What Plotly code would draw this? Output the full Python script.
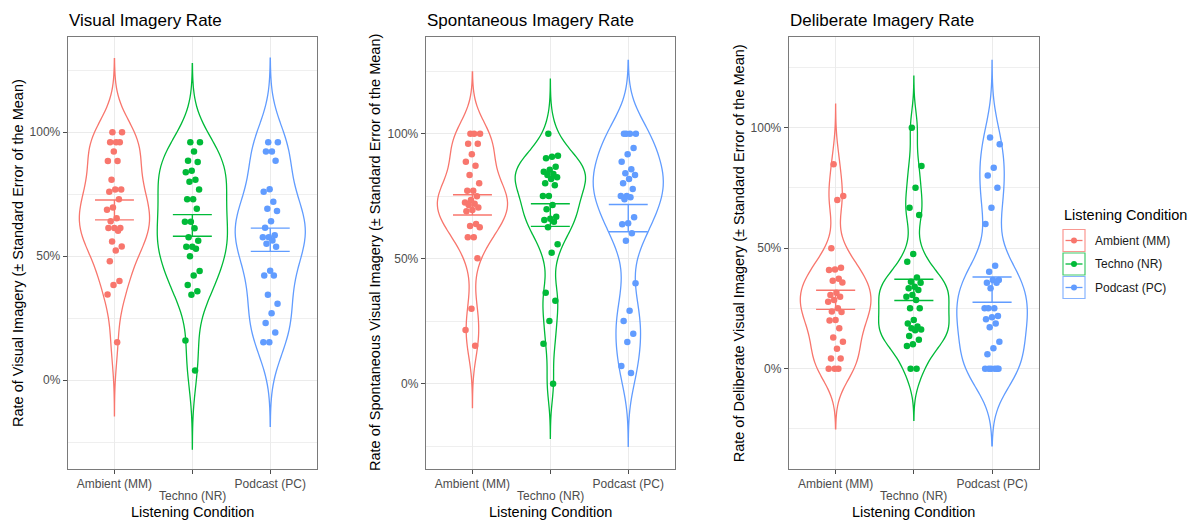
import numpy as np
import plotly.graph_objects as go

# ---- data (percent of trials with imagery, per participant) ----
conditions = ["Ambient (MM)", "Techno (NR)", "Podcast (PC)"]
colors = ["#F8766D", "#00BA38", "#619CFF"]

visual_ambient = [100, 100, 96, 96, 96, 92.2, 88.4, 88.4, 80.8, 76.9, 76.9, 76.0, 73.0, 69.6, 68.7,
                  65.3, 64.1, 61.4, 61.4, 61.4, 60.3, 55.9, 53.9, 52.3, 48.0, 40.0, 38.4, 34.6, 15.3]
visual_techno = [96, 96, 92.2, 88.5, 88.0, 84.5, 83.9, 80.8, 80.0, 76.9, 73.0, 73.0, 69.1, 63.9, 63.9,
                 61.3, 57.7, 56.2, 53.8, 53.8, 53.0, 50.0, 44.0, 42.2, 38.4, 35.9, 34.5, 16.0, 3.9]
visual_podcast = [96, 96, 92.2, 92.2, 88.5, 77.0, 76.0, 72.0, 69.1, 68.2, 64.1, 61.5, 58.5, 57.7,
                  57.7, 56.3, 55.0, 53.8, 44.1, 42.2, 42.2, 34.5, 30.8, 27.0, 23.1, 19.2, 15.3, 15.3]

spont_ambient = [100, 100, 100, 96, 96, 91.8, 88.8, 87.2, 83.5, 80.2, 77.2, 77.2, 75.0, 73.5, 72.5,
                 72.0, 71.5, 70.5, 69.5, 69.0, 63.9, 63.1, 62.6, 58.6, 58.6, 50.2, 30.0, 21.5, 15.2]
spont_techno = [100, 91.2, 90.8, 90.2, 86.8, 85.6, 84.8, 83.9, 83.5, 82.6, 81.9, 80.2, 79.4, 75.1,
                75.1, 71.5, 69.8, 66.8, 66.0, 65.5, 64.8, 62.6, 55.8, 52.4, 36.4, 33.2, 25.1, 16.0, 0]
spont_podcast = [100, 100, 100, 100, 94.3, 91.8, 88.8, 85.8, 84.2, 83.5, 81.9, 80.2, 77.9, 75.1,
                 75.1, 74.6, 73.8, 66.6, 64.2, 63.8, 60.2, 57.2, 40.2, 29.2, 25.1, 20.0, 16.7, 7.1, 4.3]

delib_ambient = [84.8, 71.6, 70.0, 50.0, 41.9, 41.2, 41.0, 37.3, 36.5, 35.8, 31.5, 30.6, 29.9, 28.5,
                 27.8, 25.1, 23.7, 23.5, 20.2, 20.0, 16.8, 13.0, 11.2, 8.3, 4.2, 4.2, 0, 0, 0]
delib_techno = [100, 84.1, 75.1, 66.8, 63.8, 47.6, 44.4, 37.8, 36.1, 35.7, 34.0, 33.4, 32.7, 30.6,
                29.9, 28.5, 25.1, 25.1, 20.2, 18.8, 17.5, 16.8, 16.3, 16.0, 13.6, 12.0, 10.2, 9.4, 0, 0]
delib_podcast = [95.9, 93.1, 83.4, 80.1, 75.1, 66.8, 60.0, 42.7, 40.2, 36.8, 36.8, 35.7, 35.7, 33.4,
                 25.1, 25.1, 25.1, 21.9, 21.3, 20.5, 18.8, 17.2, 11.2, 8.5, 6.0, 0, 0, 0, 0, 0, 0]

panel_titles = ["Visual Imagery Rate", "Spontaneous Imagery Rate", "Deliberate Imagery Rate"]
y_titles = ["Rate of Visual Imagery (\u00b1 Standard Error of the Mean)",
            "Rate of Spontaneous Visual Imagery (\u00b1 Standard Error of the Mean)",
            "Rate of Deliberate Visual Imagery (\u00b1 Standard Error of the Mean)"]
x_title = "Listening Condition"
legend_title = "Listening Condition"
panel_data = [
    [visual_ambient, visual_techno, visual_podcast],
    [spont_ambient, spont_techno, spont_podcast],
    [delib_ambient, delib_techno, delib_podcast],
]
# y-axis limits per panel (fraction)
y_limits = [(-0.358, 1.384), (-0.341, 1.387), (-0.416, 1.376)]

# ---- page geometry (pixels) ----
W, H = 1196, 520
panel_x = [(67.7, 317.0), (425.7, 675.0), (788.7, 1039.0)]
panel_top, panel_bot = 37.0, 469.0
ytitle_x = [18.0, 375.0, 739.3]
FONT = "Liberation Sans, Arial, Helvetica, sans-serif"
TICK_FONT = dict(family=FONT, size=12, color="#4D4D4D")


def px_x(p):
    return p / W


def px_y(p):
    return 1 - p / H


def bw_nrd0(v):
    v = np.asarray(v, dtype=float)
    sd = v.std(ddof=1)
    q75, q25 = np.percentile(v, [75, 25])
    lo = min(sd, (q75 - q25) / 1.34)
    if lo <= 0:
        lo = sd if sd > 0 else 1.0
    return 0.9 * lo * len(v) ** -0.2


def jitter(n, width=0.1):
    # deterministic low-discrepancy spread within +/- width
    return np.array([width * (2 * ((i * 0.6180339887 + 0.37) % 1.0) - 1) for i in range(n)])


fig = go.Figure()
annotations = []
shapes = []

for p, groups in enumerate(panel_data):
    xa = "x" if p == 0 else f"x{p + 1}"
    ya = "y" if p == 0 else f"y{p + 1}"
    for g, vals in enumerate(groups):
        v = np.asarray(vals, dtype=float) / 100.0
        bw = bw_nrd0(v)
        lo, hi = v.min() - 3 * bw, v.max() + 3 * bw
        xc = g + 1
        # violin outline (untrimmed density, 3 bandwidths past the data)
        fig.add_trace(go.Violin(
            x0=xc, y=v, xaxis=xa, yaxis=ya, name=conditions[g],
            bandwidth=bw, spanmode="manual", span=[lo, hi],
            width=0.9, scalegroup=f"panel{p}", scalemode="width",
            line=dict(color=colors[g], width=1.3), fillcolor="rgba(0,0,0,0)",
            points=False, box_visible=False, meanline_visible=False,
            showlegend=False, hoverinfo="skip",
        ))
        # jittered participants
        fig.add_trace(go.Scatter(
            x=xc + jitter(len(v)), y=v, xaxis=xa, yaxis=ya, mode="markers",
            marker=dict(size=6.5, color=colors[g]), showlegend=False, hoverinfo="skip",
        ))
        # mean +/- standard error
        m = v.mean()
        se = v.std(ddof=1) / np.sqrt(len(v))
        hw = 0.25
        ex = [xc - hw, xc + hw, None, xc - hw, xc + hw, None, xc, xc]
        ey = [m + se, m + se, None, m - se, m - se, None, m - se, m + se]
        fig.add_trace(go.Scatter(
            x=ex, y=ey, xaxis=xa, yaxis=ya, mode="lines",
            line=dict(color=colors[g], width=1.4), showlegend=False, hoverinfo="skip",
        ))

    axis_common = dict(
        showline=True, mirror=True, linecolor="#7a7a7a", linewidth=1,
        ticks="outside", ticklen=4, tickcolor="#4d4d4d", tickwidth=1,
        tickfont=TICK_FONT,
        gridcolor="#EBEBEB", gridwidth=1, zeroline=False, automargin=False,
    )
    x0, x1 = panel_x[p]
    # the middle label is dodged onto a second row, drawn below
    fig.layout[f"xaxis{p + 1 if p else ''}"] = dict(
        axis_common, domain=[px_x(x0), px_x(x1)], anchor=ya,
        range=[0.4, 3.6], tickvals=[1, 2, 3],
        ticktext=[conditions[0], "", conditions[2]],
        showgrid=True,
    )
    fig.layout[f"yaxis{p + 1 if p else ''}"] = dict(
        axis_common, domain=[px_y(panel_bot), px_y(panel_top)], anchor=xa,
        range=list(y_limits[p]), tickvals=[0, 0.5, 1.0], tickformat=".0%", showgrid=True,
        minor=dict(tickvals=[-0.25, 0.25, 0.75, 1.25], showgrid=True,
                   gridcolor="#EFEFEF", gridwidth=1, ticks=""),
    )
    annotations.append(dict(
        text=conditions[1], xref=xa, yref="paper", x=2, y=px_y(495.5),
        xanchor="center", yanchor="middle", showarrow=False, font=TICK_FONT,
    ))

    # panel title
    annotations.append(dict(
        text=panel_titles[p], xref="paper", yref="paper", x=px_x(x0 - 1), y=px_y(20.5),
        xanchor="left", yanchor="middle", showarrow=False,
        font=dict(family=FONT, size=17, color="#000000"),
    ))
    # y-axis title
    annotations.append(dict(
        text=y_titles[p], xref="paper", yref="paper", x=px_x(ytitle_x[p]),
        y=px_y((panel_top + panel_bot) / 2), xanchor="center", yanchor="middle",
        textangle=-90, showarrow=False, font=dict(family=FONT, size=14.5, color="#000000"),
    ))
    # x-axis title
    annotations.append(dict(
        text=x_title, xref="paper", yref="paper", x=px_x((x0 + x1) / 2), y=px_y(511.5),
        xanchor="center", yanchor="middle", showarrow=False,
        font=dict(family=FONT, size=14.5, color="#000000"),
    ))

# ---- legend ----
annotations.append(dict(
    text=legend_title, xref="paper", yref="paper", x=px_x(1061.5), y=px_y(215),
    xanchor="left", yanchor="middle", showarrow=False,
    font=dict(family=FONT, size=14.5, color="#000000"),
))
key_left, key_size, key_pitch, key_top0 = 1063.0, 22.0, 23.5, 229.5
for g, name in enumerate(conditions):
    top = key_top0 + g * key_pitch
    cy = top + key_size / 2
    shapes.append(dict(type="rect", xref="paper", yref="paper",
                       x0=px_x(key_left), x1=px_x(key_left + key_size),
                       y0=px_y(top + key_size), y1=px_y(top),
                       line=dict(color=colors[g], width=1.2), fillcolor="rgba(0,0,0,0)", opacity=0.75))
    shapes.append(dict(type="line", xref="paper", yref="paper",
                       x0=px_x(key_left + 2.5), x1=px_x(key_left + key_size - 2.5),
                       y0=px_y(cy), y1=px_y(cy), line=dict(color=colors[g], width=1.3)))
    shapes.append(dict(type="circle", xref="paper", yref="paper",
                       x0=px_x(key_left + key_size / 2 - 3), x1=px_x(key_left + key_size / 2 + 3),
                       y0=px_y(cy + 3), y1=px_y(cy - 3),
                       line=dict(color=colors[g], width=0), fillcolor=colors[g]))
    annotations.append(dict(
        text=name, xref="paper", yref="paper", x=px_x(1092.5), y=px_y(cy),
        xanchor="left", yanchor="middle", showarrow=False,
        font=dict(family=FONT, size=12, color="#1a1a1a"),
    ))

fig.update_layout(
    width=W, height=H, margin=dict(l=0, r=0, t=0, b=0),
    paper_bgcolor="white", plot_bgcolor="white",
    violinmode="overlay", showlegend=False,
    annotations=annotations, shapes=shapes,
    font=dict(family=FONT),
)

fig.write_html("out.html", config={"displayModeBar": False})
